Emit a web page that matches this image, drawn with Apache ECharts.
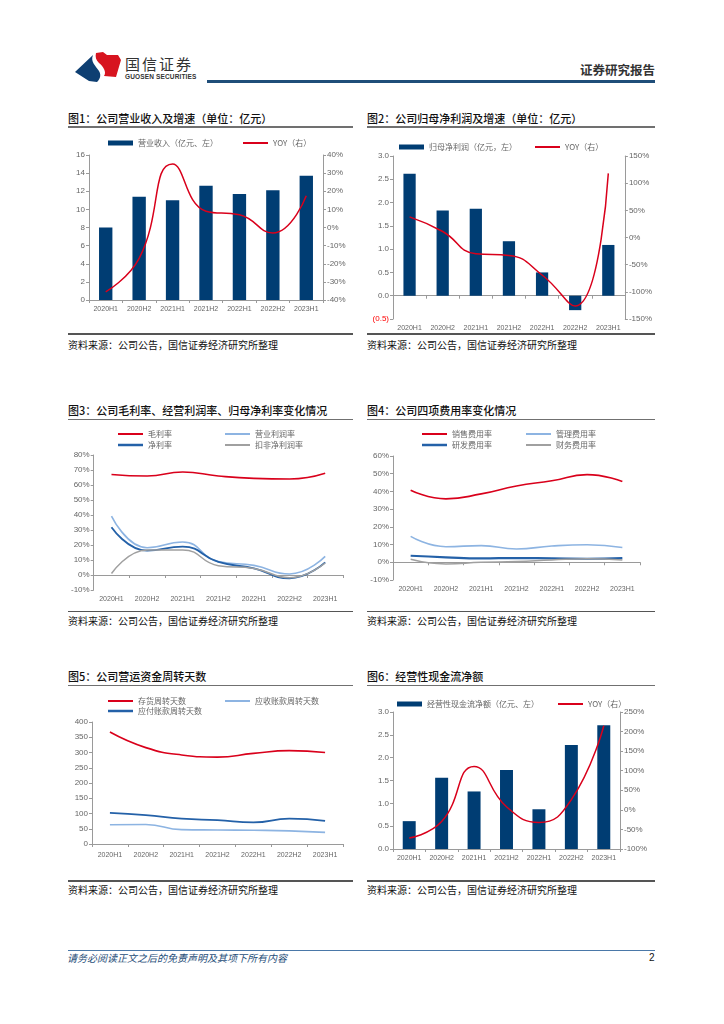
<!DOCTYPE html>
<html>
<head>
<meta charset="utf-8">
<script src="https://cdn.jsdelivr.net/npm/echarts@6/dist/echarts.min.js"></script>
<style>
html,body{margin:0;padding:0;background:#fff;}
body{width:724px;height:1024px;position:relative;overflow:hidden;font-family:"Noto Sans CJK SC","Noto Sans",sans-serif;}
.abs{position:absolute;white-space:nowrap;}
.title{font-size:11px;font-weight:500;color:#111;line-height:14px;height:14px;}
.src{font-size:10px;color:#111;line-height:12px;height:12px;}
.hl{position:absolute;height:1.5px;background:#707070;}
.chart{position:absolute;}
</style>
</head>
<body>
<!-- header -->
<svg class="abs" style="left:0;top:0" width="724" height="100">
  <path d="M75,72 L93,55 C90,62 96,66 99,71 C102,76 99,80 97,82 L89,81 Z" fill="#0E3F72"/>
  <path d="M96,53 L103,52 L107,55 L118,55 L121,60 L116,77 L104,76 C107,72 103,66 99,63 C96,60 95,57 96,53 Z" fill="#D7141F"/>
</svg>
<div class="abs" style="left:125px;top:55px;font-size:15px;line-height:18px;color:#333;letter-spacing:2px;">国信证券</div>
<div class="abs" style="left:125px;top:73px;font-size:6.5px;line-height:8px;color:#333;font-weight:bold;font-family:'Liberation Sans',Arial,sans-serif;letter-spacing:0.15px;">GUOSEN SECURITIES</div>
<div class="abs" style="left:207px;top:80px;width:448px;height:2.5px;background:#1F4E79;"></div>
<div class="abs" style="right:69px;top:62px;font-size:12.5px;line-height:16px;color:#333;font-weight:bold;">证券研究报告</div>

<!-- titles -->
<div class="abs title" style="left:68px;top:111px;">图1：公司营业收入及增速（单位：亿元）</div>
<div class="abs title" style="left:367px;top:111px;">图2：公司归母净利润及增速（单位：亿元）</div>
<div class="abs title" style="left:68px;top:403px;">图3：公司毛利率、经营利润率、归母净利率变化情况</div>
<div class="abs title" style="left:367px;top:403px;">图4：公司四项费用率变化情况</div>
<div class="abs title" style="left:68px;top:669px;">图5：公司营运资金周转天数</div>
<div class="abs title" style="left:367px;top:669px;">图6：经营性现金流净额</div>

<div class="hl" style="left:68px;top:126px;width:285px;"></div>
<div class="hl" style="left:367px;top:126px;width:288px;"></div>
<div class="hl" style="left:68px;top:418.5px;width:285px;"></div>
<div class="hl" style="left:367px;top:418.5px;width:288px;"></div>
<div class="hl" style="left:68px;top:684.5px;width:285px;"></div>
<div class="hl" style="left:367px;top:684.5px;width:288px;"></div>

<div class="hl" style="left:68px;top:333px;width:285px;background:#555;"></div>
<div class="hl" style="left:367px;top:333px;width:288px;background:#555;"></div>
<div class="hl" style="left:68px;top:610.5px;width:285px;background:#555;"></div>
<div class="hl" style="left:367px;top:610.5px;width:288px;background:#555;"></div>
<div class="hl" style="left:68px;top:880px;width:285px;background:#555;"></div>
<div class="hl" style="left:367px;top:880px;width:288px;background:#555;"></div>

<div class="abs src" style="left:68px;top:339px;">资料来源：公司公告，国信证券经济研究所整理</div>
<div class="abs src" style="left:367px;top:339px;">资料来源：公司公告，国信证券经济研究所整理</div>
<div class="abs src" style="left:68px;top:615px;">资料来源：公司公告，国信证券经济研究所整理</div>
<div class="abs src" style="left:367px;top:615px;">资料来源：公司公告，国信证券经济研究所整理</div>
<div class="abs src" style="left:68px;top:884px;">资料来源：公司公告，国信证券经济研究所整理</div>
<div class="abs src" style="left:367px;top:884px;">资料来源：公司公告，国信证券经济研究所整理</div>

<!-- footer -->
<div class="abs" style="left:68px;top:950px;width:587px;height:1px;background:#4A78A8;"></div>
<div class="abs" style="left:67px;top:952px;font-size:10px;line-height:12px;color:#1F4E79;font-style:italic;">请务必阅读正文之后的免责声明及其项下所有内容</div>
<div class="abs" style="left:649px;top:952px;font-size:10px;line-height:12px;color:#111;font-family:'Liberation Sans',Arial,sans-serif;">2</div>

<div id="c1" class="chart" style="left:68px;top:128px;width:285px;height:204px;"></div>
<div id="c2" class="chart" style="left:367px;top:128px;width:288px;height:204px;"></div>
<div id="c3" class="chart" style="left:68px;top:420px;width:285px;height:190px;"></div>
<div id="c4" class="chart" style="left:367px;top:420px;width:288px;height:190px;"></div>
<div id="c5" class="chart" style="left:68px;top:687px;width:285px;height:193px;"></div>
<div id="c6" class="chart" style="left:367px;top:687px;width:288px;height:193px;"></div>

<script>
// ---------- data ----------
const categories = ['2020H1','2020H2','2021H1','2021H2','2022H1','2022H2','2023H1'];

const revenue    = [8.0, 11.4, 11.0, 12.6, 11.7, 12.1, 13.7];
const revenueYoy = [-35.5, -17, 35, 9, 7, -3, 17.5];

const netProfit    = [2.62, 1.83, 1.87, 1.17, 0.50, -0.31, 1.09];
const netProfitYoy = [38, 11, -30, -33, -69, -126, 118];

const grossMargin     = [67, 66, 68.7, 66, 64.4, 64, 67.8];
const opMargin        = [39.3, 18.2, 22, 8.9, 6.4, 0.7, 12.4];
const netMargin       = [31.8, 16.2, 18.9, 8.7, 4.4, -2.2, 8.4];
const deductedMargin  = [1, 16.7, 16.7, 6.2, 4.4, -1.8, 8];

const sellingRate = [40.7, 35.8, 38.6, 43.1, 46, 49.5, 45.6];
const adminRate   = [14.6, 8.8, 9.4, 7.5, 9.2, 9.9, 8.3];
const rdRate      = [3.7, 2.8, 2.2, 2.4, 2.2, 2.0, 2.4];
const finRate     = [1.7, -0.9, 0, 0.4, 1.3, 2.0, 1.3];

const inventoryDays  = [367, 316, 292, 285, 297, 306, 300];
const receivableDays = [63, 64, 47, 46, 45, 43, 38];
const payableDays    = [102, 95, 83, 78, 71, 83, 76];

const cashFlow    = [0.61, 1.56, 1.26, 1.73, 0.87, 2.28, 2.71];
const cashFlowYoy = [-72, -30, 111, 8, -32, 26, 215];

// ---------- styles ----------
const RED = '#D9001B', NAVY = '#003D73', LBLUE = '#8DB4E2', DBLUE = '#2461A8', GRAY = '#A0A0A0';
const numFont = "'Liberation Sans', Arial, sans-serif";
const cjkFont = "'Noto Sans CJK SC', sans-serif";
const axLine = {show:true, lineStyle:{color:'#9a9a9a', width:1}};
const axTick = {show:true, length:3, lineStyle:{color:'#9a9a9a'}};
const lab = (extra) => Object.assign({color:'#666', fontSize:7.5, fontFamily:numFont}, extra||{});

function xAx(extra){
  return Object.assign({type:'category', data:categories, boundaryGap:true,
    axisLine:axLine, axisTick:Object.assign({}, axTick, {alignWithLabel:false, interval:0}),
    axisLabel:lab({margin:6, interval:0, fontSize:7}), splitLine:{show:false}}, extra||{});
}
function yAx(min,max,interval,fmt,extra){
  return Object.assign({type:'value', min, max, interval,
    axisLine:axLine, axisTick:axTick, splitLine:{show:false},
    axisLabel:lab({formatter:fmt, margin:4, fontSize:8})}, extra||{});
}
function lg(name,left,top,h){
  return {data:[name], left, top, icon:'rect', itemWidth:25, itemHeight:h, padding:0, itemGap:0,
    selectedMode:false, textStyle:{fontSize:8, color:'#666', fontFamily:cjkFont}};
}
function line(name,data,color,width,yIdx){
  return {name, type:'line', data, smooth:true, symbol:'none', yAxisIndex:yIdx||0,
    lineStyle:{color, width:width||1.5}, itemStyle:{color}, z:3};
}
function bar(name,data,w){
  return {name, type:'bar', data, barWidth:w, itemStyle:{color:NAVY}, z:2};
}
function mk(id,opt){
  const c = echarts.init(document.getElementById(id), null, {renderer:'canvas'});
  opt.animation = false;
  c.setOption(opt);
}
const pct = '{value}%';
const negFmt = function(v){return v<0?'{neg|('+Math.abs(v).toFixed(1)+')}':v.toFixed(1);};

// ---------- chart 1 ----------
mk('c1', {
  grid:{left:21, right:30, top:27, bottom:32},
  legend:[lg('营业收入（亿元、左）',40,11,5), lg('YOY（右）',175,11,2)],
  xAxis:xAx(),
  yAxis:[yAx(0,16,2,'{value}'), yAx(-40,40,10,pct,{position:'right'})],
  series:[bar('营业收入（亿元、左）',revenue,'40%'), line('YOY（右）',revenueYoy,RED,1.5,1)]
});

// ---------- chart 2 ----------
mk('c2', {
  grid:{left:26, right:30, top:28, bottom:10},
  legend:[lg('归母净利润（亿元，左）',32,15,5), lg('YOY（右）',168,15,2)],
  xAxis:xAx({axisLine:Object.assign({}, axLine, {onZero:true, onZeroAxisIndex:0})}),
  yAxis:[
    yAx(-0.5,3.0,0.5,negFmt,
      {axisLabel:lab({fontSize:8, margin:4, formatter:negFmt, rich:{neg:{color:'#FF0000', fontSize:8, fontFamily:numFont}}})}),
    yAx(-150,150,50,pct,{position:'right'})
  ],
  series:[bar('归母净利润（亿元，左）',netProfit,'37%'), line('YOY（右）',netProfitYoy,RED,1.5,1)]
});

// ---------- chart 3 ----------
mk('c3', {
  grid:{left:25, right:10, top:35, bottom:20},
  legend:[lg('毛利率',50,10,2), lg('营业利润率',157,10,2), lg('净利率',50,21,2.5), lg('扣非净利润率',157,21,2)],
  xAxis:xAx(),
  yAxis:yAx(-10,80,10,pct),
  series:[
    line('毛利率',grossMargin,RED,1.6),
    line('营业利润率',opMargin,LBLUE,1.6),
    line('净利率',netMargin,DBLUE,1.8),
    line('扣非净利润率',deductedMargin,GRAY,1.5)
  ]
});

// ---------- chart 4 ----------
mk('c4', {
  grid:{left:26, right:15, top:36, bottom:30},
  legend:[lg('销售费用率',55,10,2), lg('管理费用率',159,10,2), lg('研发费用率',55,21,2.5), lg('财务费用率',159,21,2)],
  xAxis:xAx(),
  yAxis:yAx(-10,60,10,pct),
  series:[
    line('销售费用率',sellingRate,RED,1.6),
    line('管理费用率',adminRate,LBLUE,1.6),
    line('研发费用率',rdRate,DBLUE,2.2),
    line('财务费用率',finRate,GRAY,1.5)
  ]
});

// ---------- chart 5 ----------
mk('c5', {
  grid:{left:24, right:10, top:35, bottom:36},
  legend:[lg('存货周转天数',40,10,2), lg('应收账款周转天数',157,10,2), lg('应付账款周转天数',40,20,2.5)],
  xAxis:xAx({axisLabel:lab({margin:8, interval:0, fontSize:7})}),
  yAxis:yAx(0,400,50,'{value}'),
  series:[
    line('存货周转天数',inventoryDays,RED,1.6),
    line('应收账款周转天数',receivableDays,LBLUE,1.6),
    line('应付账款周转天数',payableDays,DBLUE,1.8)
  ]
});

// ---------- chart 6 ----------
mk('c6', {
  grid:{left:26, right:35, top:25, bottom:31},
  legend:[lg('经营性现金流净额（亿元、左）',30,13,5), lg('YOY（右）',191,13,2)],
  xAxis:xAx(),
  yAxis:[yAx(0,3,0.5,function(v){return v.toFixed(1);}), yAx(-100,250,50,pct,{position:'right'})],
  series:[bar('经营性现金流净额（亿元、左）',cashFlow,'40%'), line('YOY（右）',cashFlowYoy,RED,1.5,1)]
});
</script>
</body>
</html>
